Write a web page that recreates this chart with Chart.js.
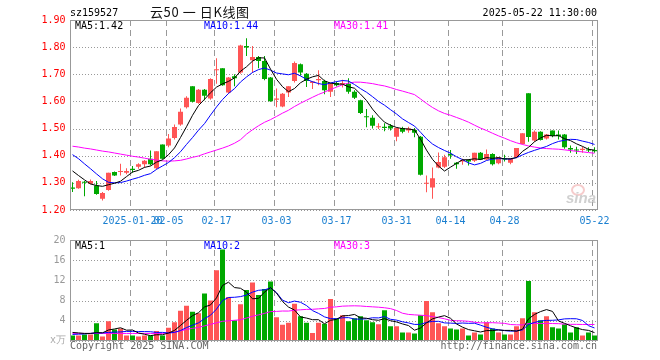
<!DOCTYPE html>
<html>
<head>
<meta charset="utf-8">
<script src="https://cdn.jsdelivr.net/npm/chart.js@4.4.0/dist/chart.umd.min.js"></script>
<style>
  body { margin: 0; background: #fff; width: 660px; height: 360px; overflow: hidden; position: relative; font-family: "DejaVu Sans Mono", monospace; }
  canvas { position: absolute; left: 0; }
  #priceChart { top: 0; }
  #volChart { top: 230px; }
  .txt { position: absolute; font-size: 10px; line-height: 12px; white-space: pre; }
  .eye { position: absolute; left: 571px; top: 184px; width: 10px; height: 8px; border: 2px solid #f6cccc; border-radius: 50%; }
</style>
</head>
<body>
<canvas id="priceChart" width="660" height="230"></canvas>
<canvas id="volChart" width="660" height="130"></canvas>

<div class="txt" style="left:70px;top:7px;color:#000">sz159527</div>
<div class="txt" style="left:150px;top:5px;font-family:'Noto Sans CJK SC';font-size:13px;line-height:13px;letter-spacing:0.6px;color:#111">云50 一 日K线图</div>
<div class="txt" style="right:63px;top:7px;color:#000">2025-05-22 11:30:00</div>

<div class="txt" style="left:75px;top:20px;color:#000">MA5:1.42</div>
<div class="txt" style="left:204px;top:20px;color:#0000ff">MA10:1.44</div>
<div class="txt" style="left:334px;top:20px;color:#ff00ff">MA30:1.41</div>

<div class="txt" style="left:75px;top:240px;color:#000">MA5:1</div>
<div class="txt" style="left:204px;top:240px;color:#0000ff">MA10:2</div>
<div class="txt" style="left:334px;top:240px;color:#ff00ff">MA30:3</div>

<div class="txt" style="left:50px;top:334px;color:#aaa">x万</div>
<div class="txt" style="left:70px;top:340px;color:#666">Copyright 2025 SINA.COM</div>
<div class="txt" style="right:63px;top:340px;color:#666">http://finance.sina.com.cn</div>
<div class="eye"></div>
<div class="txt" style="left:566px;top:190px;font-family:'Liberation Sans';font-size:15px;line-height:15px;font-weight:bold;font-style:italic;color:#d0d0d0">sina</div>

<script>
// daily candles, 88 trading days (2025-01-06 .. 2025-05-22)
const openP = [1.283,1.280,1.304,1.297,1.290,1.241,1.274,1.340,1.340,1.337,
  1.352,1.359,1.369,1.389,1.354,1.441,1.438,1.465,1.515,1.579,
  1.656,1.594,1.643,1.611,1.715,1.722,1.633,1.693,1.707,1.804,
  1.752,1.764,1.749,1.688,1.606,1.581,1.633,1.675,1.737,1.702,
  1.668,1.678,1.675,1.636,1.668,1.663,1.665,1.636,1.604,1.545,
  1.540,1.505,1.507,1.510,1.470,1.502,1.493,1.495,1.470,1.297,
  1.283,1.357,1.359,1.406,1.374,1.379,1.384,1.381,1.411,1.386,
  1.406,1.372,1.391,1.374,1.394,1.443,1.630,1.456,1.488,1.463,
  1.493,1.478,1.478,1.428,1.423,1.421,1.423,1.421];
const highP = [1.302,1.311,1.307,1.312,1.307,1.266,1.337,1.342,1.370,1.354,
  1.362,1.372,1.384,1.419,1.416,1.441,1.480,1.515,1.574,1.619,
  1.656,1.646,1.646,1.685,1.759,1.722,1.690,1.700,1.809,1.833,
  1.804,1.767,1.767,1.690,1.648,1.631,1.656,1.747,1.740,1.705,
  1.675,1.715,1.680,1.668,1.673,1.680,1.685,1.641,1.606,1.572,
  1.549,1.520,1.520,1.517,1.505,1.507,1.507,1.502,1.473,1.327,
  1.357,1.412,1.404,1.421,1.377,1.389,1.387,1.411,1.414,1.423,
  1.409,1.394,1.404,1.391,1.428,1.483,1.630,1.493,1.490,1.480,
  1.493,1.493,1.480,1.438,1.433,1.433,1.431,1.431];
const lowP = [1.266,1.278,1.251,1.295,1.256,1.235,1.271,1.325,1.327,1.332,
  1.337,1.352,1.357,1.364,1.349,1.386,1.431,1.460,1.510,1.574,
  1.596,1.591,1.604,1.606,1.665,1.658,1.628,1.656,1.702,1.767,
  1.705,1.722,1.678,1.599,1.579,1.579,1.616,1.670,1.695,1.653,
  1.646,1.660,1.626,1.616,1.655,1.651,1.628,1.609,1.554,1.505,
  1.500,1.498,1.490,1.493,1.453,1.483,1.485,1.468,1.327,1.265,
  1.241,1.354,1.355,1.389,1.352,1.367,1.364,1.377,1.384,1.384,
  1.364,1.369,1.379,1.369,1.391,1.441,1.451,1.451,1.456,1.460,
  1.468,1.460,1.426,1.411,1.406,1.411,1.414,1.411];
const closeP = [1.278,1.307,1.300,1.307,1.259,1.263,1.337,1.327,1.344,1.344,
  1.347,1.369,1.381,1.369,1.416,1.389,1.463,1.506,1.562,1.614,
  1.599,1.643,1.621,1.683,1.717,1.660,1.688,1.685,1.806,1.799,
  1.764,1.749,1.683,1.601,1.611,1.628,1.656,1.742,1.707,1.675,
  1.673,1.683,1.641,1.665,1.660,1.668,1.636,1.614,1.557,1.542,
  1.510,1.507,1.502,1.500,1.502,1.488,1.500,1.485,1.330,1.300,
  1.317,1.377,1.394,1.401,1.369,1.384,1.379,1.411,1.386,1.406,
  1.369,1.394,1.386,1.389,1.428,1.483,1.469,1.488,1.458,1.478,
  1.473,1.473,1.431,1.423,1.419,1.426,1.419,1.416];
// volume in 万
const volume = [1.1,1.1,1.3,1.3,3.5,0.9,3.9,2.3,2.5,1.1,
  1.1,0.9,1.1,1.1,2.0,1.1,2.6,3.7,6.0,7.0,
  5.8,5.5,9.4,8.0,14.0,18.1,8.7,4.1,7.3,10.1,
  11.6,9.1,10.3,11.8,4.7,3.2,3.6,7.4,4.9,3.6,
  1.6,3.6,3.4,8.3,4.5,5.1,3.9,4.5,4.9,4.1,
  3.7,3.3,6.1,2.9,2.9,1.7,1.7,1.5,5.1,7.9,
  5.7,3.5,2.9,2.5,2.3,2.5,1.1,1.7,1.3,3.7,
  2.5,1.7,1.3,1.3,2.9,4.5,11.9,5.7,4.1,4.9,
  2.7,2.5,3.3,1.7,2.7,1.1,1.7,1.1];

// MA values at the left edge (their history is off the chart)
const ma5PriceEarly = [1.344,1.327,1.311,1.296];
const ma10PriceEarly = [1.404,1.389,1.370,1.352,1.333,1.315,1.302,1.300,1.301];
const ma30PriceEarly = [1.435,1.432,1.428,1.425,1.421,1.417,1.414,1.410,1.406,1.402,
  1.398,1.395,1.391,1.387,1.384,1.381,1.380,1.381,1.383,1.388,
  1.394,1.399,1.407,1.414,1.421,1.428,1.436,1.446,1.459];
const ma5VolEarly = [1.7,1.6,1.5,1.5];
const ma10VolEarly = [1.3,1.35,1.4,1.5,1.6,1.6,1.7,1.75,1.8];
const ma30VolEarly = [1.5,1.5,1.5,1.5,1.5,1.5,1.5,1.5,1.5,1.5,
  1.5,1.5,1.5,1.5,1.5,1.5,1.6,1.7,2.0,2.3,
  2.5,2.7,3.0,3.3,3.6,3.9,4.0,4.1,4.2];

// date labels on the x axis (index of the trading day)
const tickIndex = [10,16,24,34,44,54,63,72,87];
const tickText = ['2025-01-20','02-05','02-17','03-03','03-17','03-31','04-14','04-28','05-22'];

const UP = '#ff5555';
const DOWN = '#00a800';
const GRID = '#999999';
const FONT = { family: 'DejaVu Sans Mono', size: 10 };

const labels = closeP.map((c, i) => i);
const candleColors = closeP.map((c, i) => c >= openP[i] ? UP : DOWN);
const bodies = closeP.map((c, i) => [Math.min(openP[i], c), Math.max(openP[i], c)]);
const wicks = closeP.map((c, i) => [lowP[i], highP[i]]);

const tickMap = {};
tickIndex.forEach((idx, k) => { tickMap[idx] = tickText[k]; });

function movingAverage(values, n, early) {
  return values.map((v, i) => {
    if (i < n - 1) return early[i];
    let sum = 0;
    for (let k = i - n + 1; k <= i; k++) sum += values[k];
    return sum / n;
  });
}

// dotted value lines and dashed date lines, placed with the chart's own scales
// (drawn as small rects: dashed strokes do not show up here)
const gridPlugin = {
  id: 'dashGrid',
  beforeDatasetsDraw(chart) {
    const { ctx, chartArea: a, scales } = chart;
    const left = Math.round(a.left), right = Math.round(a.right);
    const top = Math.round(a.top), bottom = Math.round(a.bottom);
    ctx.save();
    ctx.fillStyle = GRID;
    scales.y.ticks.forEach(t => {
      const py = Math.round(scales.y.getPixelForValue(t.value));
      for (let x = left; x < right; x += 3) ctx.fillRect(x, py, 1, 1);
    });
    // date lines sit on the left edge of that day's bar
    tickIndex.forEach(i => {
      const px = Math.floor(scales.x.getPixelForValue(i) - 2.5);
      for (let y = top; y < bottom; y += 10) ctx.fillRect(px, y, 1, Math.min(6, bottom - y));
    });
    ctx.restore();
  }
};

// grey frame around the plot area
const framePlugin = {
  id: 'frame',
  afterDraw(chart) {
    const { ctx, chartArea: a } = chart;
    ctx.save();
    ctx.setLineDash([]);
    ctx.strokeStyle = '#999';
    ctx.lineWidth = 1;
    const l = Math.round(a.left) + 0.5, r = Math.round(a.right) - 0.5;
    const t = Math.round(a.top) + 0.5, b = Math.round(a.bottom) - 0.5;
    ctx.strokeRect(l, t, r - l, b - t);
    ctx.restore();
  }
};

function xScale(showTicks) {
  return {
    offset: true,
    grid: { display: false, drawTicks: false },
    border: { display: false },
    ticks: {
      display: showTicks,
      autoSkip: false,
      maxRotation: 0,
      minRotation: 0,
      padding: 5,
      color: '#1a7fd0',
      font: FONT,
      callback: (v, i) => tickMap[i] !== undefined ? tickMap[i] : ''
    },
    afterFit: s => { s.height = showTicks ? 20 : 0; }
  };
}

function maLine(data, color) {
  return { type: 'line', data: data, borderColor: color, borderWidth: 1, pointRadius: 0, tension: 0, order: 0 };
}

new Chart(document.getElementById('priceChart'), {
  type: 'bar',
  data: {
    labels: labels,
    datasets: [
      maLine(movingAverage(closeP, 5, ma5PriceEarly), '#000000'),
      maLine(movingAverage(closeP, 10, ma10PriceEarly), '#0000ff'),
      maLine(movingAverage(closeP, 30, ma30PriceEarly), '#ff00ff'),
      { data: wicks, backgroundColor: candleColors, barThickness: 1, grouped: false, inflateAmount: 0, borderWidth: 0, order: 2 },
      { data: bodies, backgroundColor: candleColors, barThickness: 5, grouped: false, inflateAmount: 0, borderWidth: 0, minBarLength: 1, order: 1 }
    ]
  },
  options: {
    responsive: false,
    animation: false,
    layout: { padding: { top: 20, right: 62.5, left: 0, bottom: 0 } },
    plugins: { legend: { display: false }, tooltip: { enabled: false } },
    scales: {
      x: xScale(true),
      y: {
        min: 1.2,
        max: 1.9,
        grid: { display: false, drawTicks: false },
        border: { display: false },
        ticks: { stepSize: 0.1, padding: 4, color: '#ff0000', font: FONT, callback: v => Number(v).toFixed(2) },
        afterFit: s => { s.width = 69.5; }
      }
    }
  },
  plugins: [gridPlugin, framePlugin]
});

new Chart(document.getElementById('volChart'), {
  type: 'bar',
  data: {
    labels: labels,
    datasets: [
      maLine(movingAverage(volume, 5, ma5VolEarly), '#000000'),
      maLine(movingAverage(volume, 10, ma10VolEarly), '#0000ff'),
      maLine(movingAverage(volume, 30, ma30VolEarly), '#ff00ff'),
      { data: volume, backgroundColor: candleColors, barThickness: 5, inflateAmount: 0, borderWidth: 0, order: 1 }
    ]
  },
  options: {
    responsive: false,
    animation: false,
    layout: { padding: { top: 10, right: 62.5, left: 0, bottom: 19 } },
    plugins: { legend: { display: false }, tooltip: { enabled: false } },
    scales: {
      x: xScale(false),
      y: {
        min: 0,
        max: 20,
        grid: { display: false, drawTicks: false },
        border: { display: false },
        ticks: { stepSize: 4, padding: 4, color: '#999', font: FONT, callback: v => v === 0 ? '' : v },
        afterFit: s => { s.width = 69.5; }
      }
    }
  },
  plugins: [gridPlugin, framePlugin]
});
</script>
</body>
</html>
